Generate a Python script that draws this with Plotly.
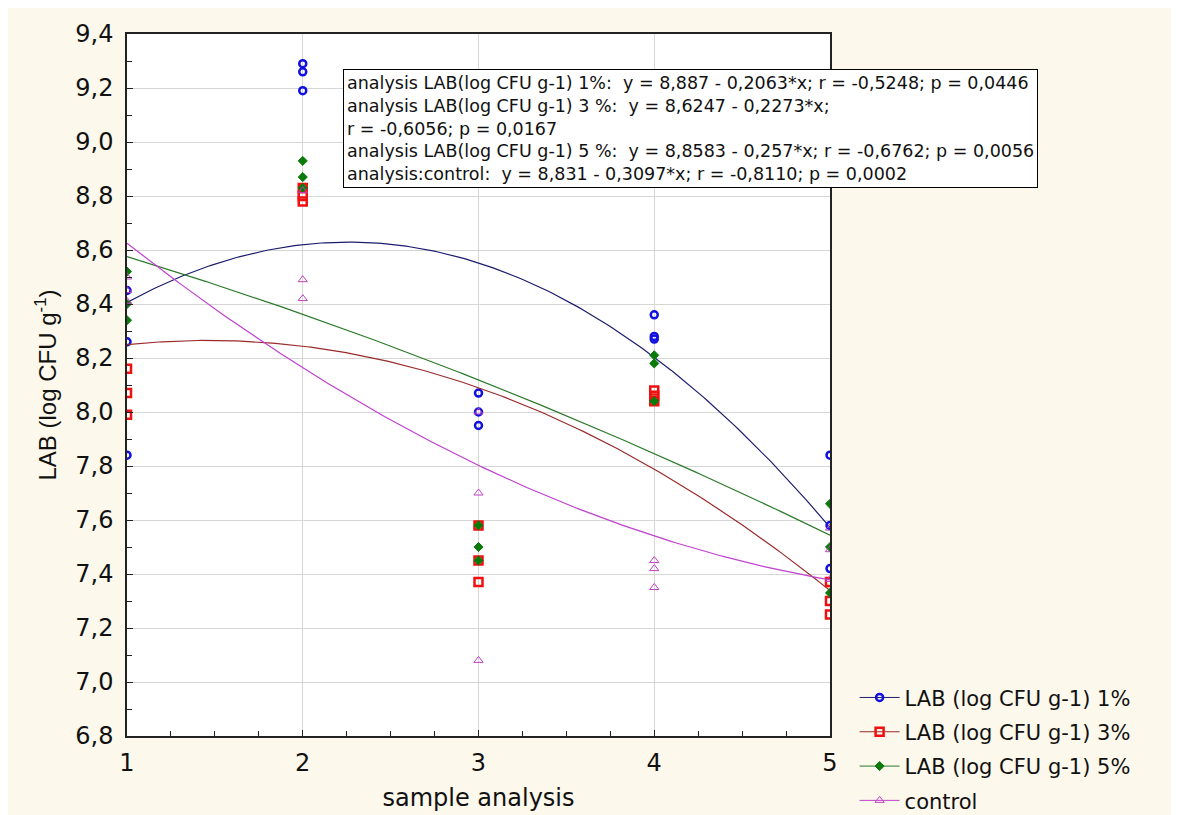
import numpy as np
import plotly.graph_objects as go

# sample analysis (x) and three replicate readings per sample
samples = [1, 2, 3, 4, 5]
lab_1 = [[8.45, 8.26, 7.84], [9.29, 9.26, 9.19], [8.07, 8.00, 7.95], [8.36, 8.28, 8.27], [7.84, 7.58, 7.42]]
lab_3 = [[8.16, 8.07, 7.99], [8.83, 8.80, 8.78], [7.58, 7.45, 7.37], [8.08, 8.06, 8.04], [7.37, 7.30, 7.25]]
lab_5 = [[8.52, 8.40, 8.34], [8.93, 8.87, 8.83], [7.58, 7.50, 7.45], [8.21, 8.18, 8.04], [7.66, 7.50, 7.33]]
control = [[8.50, 8.45, 8.41], [8.82, 8.49, 8.42], [8.00, 7.70, 7.08], [7.45, 7.42, 7.35], [7.57, 7.49, 7.38]]

series_names = ['LAB (log CFU g-1) 1%', 'LAB (log CFU g-1) 3%', 'LAB (log CFU g-1) 5%', 'control']
y_ticks = [6.8, 7.0, 7.2, 7.4, 7.6, 7.8, 8.0, 8.2, 8.4, 8.6, 8.8, 9.0, 9.2, 9.4]

stats_text = [
    'analysis LAB(log CFU g-1) 1%:  y = 8,887 - 0,2063*x; r = -0,5248; p = 0,0446',
    'analysis LAB(log CFU g-1) 3 %:  y = 8,6247 - 0,2273*x;',
    'r = -0,6056; p = 0,0167',
    'analysis LAB(log CFU g-1) 5 %:  y = 8,8583 - 0,257*x; r = -0,6762; p = 0,0056',
    'analysis:control:  y = 8,831 - 0,3097*x; r = -0,8110; p = 0,0002',
]

styles = [
    dict(symbol='circle-open', color='#1010e0', size=7, lw=2.5, line='#1c1c6e'),
    dict(symbol='square-open', color='#f01010', size=8, lw=2.5, line='#9a2a2a'),
    dict(symbol='diamond', color='#0a7a0a', size=7, lw=1, line='#2a7a2a'),
    dict(symbol='triangle-up-open', color='#c040c0', size=8, lw=1, line='#c040d0'),
]

fig = go.Figure()
xs_fit = np.linspace(1, 5, 200)
for name, data, st in zip(series_names, [lab_1, lab_3, lab_5, control], styles):
    xs = [s for s, reps in zip(samples, data) for _ in reps]
    ys = [v for reps in data for v in reps]
    coef = np.polyfit(xs, ys, 2)
    marker = dict(symbol=st['symbol'], color=st['color'], size=st['size'],
                  line=dict(color=st['color'], width=st['lw']))
    # fitted curve
    fig.add_trace(go.Scatter(
        x=xs_fit, y=np.polyval(coef, xs_fit), mode='lines',
        line=dict(color=st['line'], width=1.2), showlegend=False, hoverinfo='skip'))
    # replicate points
    fig.add_trace(go.Scatter(x=xs, y=ys, mode='markers', name=name, marker=marker,
                             showlegend=False, legendgroup=name))
    # legend entry: symbol with a line through it
    fig.add_trace(go.Scatter(x=[None], y=[None], mode='lines+markers', name=name,
                             marker=marker, line=dict(color=st['line'], width=1),
                             legendgroup=name))

fig.add_annotation(
    xref='paper', yref='paper', x=0.307, y=0.95, xanchor='left', yanchor='top',
    text='<br>'.join(stats_text), align='left', showarrow=False,
    font=dict(family='DejaVu Sans, Liberation Sans', size=17.5, color='#111'),
    bgcolor='white', bordercolor='black', borderwidth=1, borderpad=3,
)

fig.update_layout(
    width=1171, height=830,
    paper_bgcolor='#fdf8ec', plot_bgcolor='white',
    margin=dict(l=119, r=349, t=22, b=102),
    separators=', ',
    font=dict(family='DejaVu Sans, Liberation Sans', color='#111'),
    legend=dict(x=1.035, y=0.0836, xanchor='left', yanchor='top', itemwidth=40,
                font=dict(size=21), bgcolor='rgba(0,0,0,0)', tracegroupgap=4),
    xaxis=dict(range=[1, 5], tickvals=samples, showgrid=True, gridcolor='#d6d6d6',
               showline=True, linecolor='#222', linewidth=1.5, mirror=True,
               ticks='inside', ticklen=6, tickcolor='#222', ticklabelstandoff=4,
               minor=dict(dtick=0.25, ticks='inside', ticklen=5, tickcolor='#222', showgrid=False),
               tickfont=dict(size=24), zeroline=False,
               title=dict(text='sample analysis', font=dict(size=24), standoff=14)),
    yaxis=dict(range=[6.8, 9.4], tickvals=y_ticks, tickformat='.1f', showgrid=True, gridcolor='#d6d6d6',
               showline=True, linecolor='#222', linewidth=1.5, mirror=True,
               ticks='inside', ticklen=6, tickcolor='#222', ticklabelstandoff=7,
               minor=dict(dtick=0.1, ticks='inside', ticklen=5, tickcolor='#222', showgrid=False),
               tickfont=dict(size=24), zeroline=False,
               title=dict(text='LAB (log CFU g<sup>-1</sup>)',
                          font=dict(family='Liberation Sans, Arial', size=24),
                          standoff=12)),
)

fig.write_html("out.html")
